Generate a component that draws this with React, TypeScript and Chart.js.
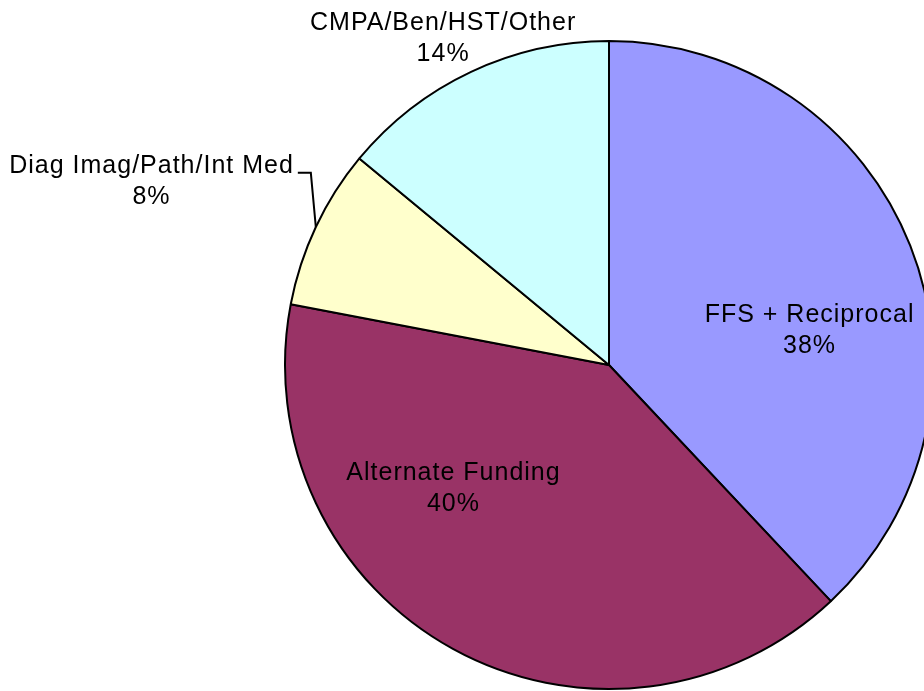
import React, { useEffect, useRef } from "react";
import { Chart, registerables } from "chart.js";

Chart.register(...registerables);

const categories = [
  "FFS + Reciprocal",
  "Alternate Funding",
  "Diag Imag/Path/Int Med",
  "CMPA/Ben/HST/Other",
];
const shares = [38, 40, 8, 14];
const sliceColors = ["#9999FF", "#993366", "#FFFFCC", "#CCFFFF"];

// label anchor offsets in units of the pie radius (from pie centre), text centre x / first baseline y
const labelDx = [0.619, -0.48, -1.412, -0.512];
const labelDy = [-0.133, 0.355, -0.593, -1.034];
const hasLeader = [false, false, true, false];

const FONT_SIZE = 25;
const LINE_GAP = 31;

const labelPlugin = {
  id: "pieLabels",
  afterDraw(chart: any) {
    const ctx = chart.ctx;
    const meta = chart.getDatasetMeta(0);
    const total = shares.reduce((a, b) => a + b, 0);
    ctx.save();
    ctx.font = `${FONT_SIZE}px "Liberation Sans", Arial, sans-serif`;
    try {
      (ctx as any).letterSpacing = "1px";
    } catch (e) {}
    ctx.fillStyle = "#000000";
    ctx.textAlign = "center";
    ctx.textBaseline = "alphabetic";
    meta.data.forEach((arc: any, i: number) => {
      const { x, y, outerRadius, startAngle, endAngle } = arc.getProps(
        ["x", "y", "outerRadius", "startAngle", "endAngle"],
        true
      );
      const lx = x + labelDx[i] * outerRadius;
      const ly = y + labelDy[i] * outerRadius;
      const pct = Math.round((shares[i] / total) * 100) + "%";
      ctx.fillText(categories[i], lx, ly);
      ctx.fillText(pct, lx, ly + LINE_GAP);
      if (hasLeader[i]) {
        const w = ctx.measureText(categories[i]).width;
        const sx = lx + w / 2 + 4;
        const sy = ly;
        const mid = (startAngle + endAngle) / 2;
        const ex = x + Math.cos(mid) * outerRadius;
        const ey = y + Math.sin(mid) * outerRadius;
        ctx.beginPath();
        ctx.strokeStyle = "#000000";
        ctx.lineWidth = 2;
        ctx.moveTo(sx, sy);
        ctx.lineTo(sx + 13, sy);
        ctx.lineTo(ex, ey);
        ctx.stroke();
      }
    });
    ctx.restore();
  },
};

export default function App() {
  const ref = useRef<HTMLCanvasElement>(null);
  useEffect(() => {
    if (!ref.current) return;
    const chart = new Chart(ref.current, {
      type: "pie",
      data: {
        labels: categories,
        datasets: [
          {
            data: shares,
            backgroundColor: sliceColors,
            borderColor: "#000000",
            borderWidth: 2,
            hoverBorderWidth: 2,
          },
        ],
      },
      options: {
        responsive: false,
        animation: false,
        events: [],
        layout: { padding: { left: 284, right: 26, top: 40, bottom: 1 } },
        plugins: {
          legend: { display: false },
          tooltip: { enabled: false },
        },
      },
      plugins: [labelPlugin],
    });
    return () => chart.destroy();
  }, []);
  return (
    <div
      style={{
        position: "absolute",
        left: 0,
        top: 0,
        width: 924,
        height: 691,
        overflow: "hidden",
        background: "#ffffff",
      }}
    >
      <canvas ref={ref} width={960} height={691} style={{ display: "block" }} />
    </div>
  );
}
